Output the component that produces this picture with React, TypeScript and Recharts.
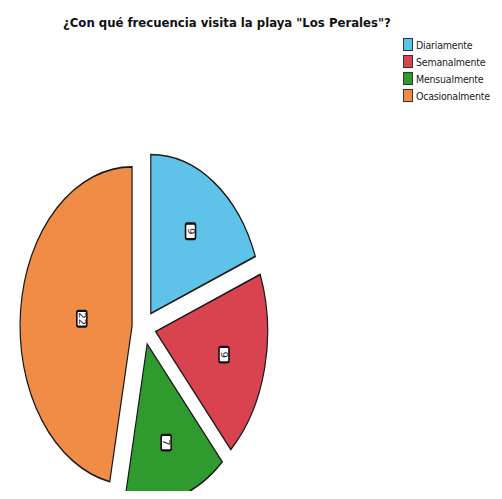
import { PieChart, Pie, Cell } from "recharts";

const title = '¿Con qué frecuencia visita la playa "Los Perales"?';
const categories = ["Diariamente", "Semanalmente", "Mensualmente", "Ocasionalmente"];
const counts = [9, 9, 7, 22];
const colors = ["#5fc2e8", "#d8434f", "#2f9b2f", "#f18c47"];

const data = categories.map((name, i) => ({ name, value: counts[i] }));
const total = counts.reduce((a, b) => a + b, 0);

const RADIAN = Math.PI / 180;
const CX = 131;
const CY = 125;
const R = 112;
const EXPLODE = 12;
const STRETCH = 1.42; // the photo is squashed, pie looks like an oval

// mid angle of each slice (recharts convention: start at 90, clockwise)
const midAngles = counts.map((v, i) => {
  const before = counts.slice(0, i).reduce((a, b) => a + b, 0);
  return 90 - ((before + v / 2) / total) * 360;
});

const renderLabel = (k: number) => (props: any) => {
  if (props.index !== k) return null;
  const { cx, cy, midAngle, outerRadius, percent, value } = props;
  const half = percent * Math.PI;
  const d = (2 * outerRadius * Math.sin(half)) / (3 * half);
  const x = cx + d * Math.cos(-midAngle * RADIAN);
  const y = cy + d * Math.sin(-midAngle * RADIAN);
  return (
    <g>
      <rect x={x - 5} y={y - 5.5} width={10} height={11} rx={1.5} fill="#fff" stroke="#111" strokeWidth={1.6} />
      <text
        x={x}
        y={y}
        transform={`rotate(90 ${x} ${y})`}
        textAnchor="middle"
        dominantBaseline="central"
        fontSize={8}
        fill="#222"
      >
        {value}
      </text>
    </g>
  );
};

const Legend = () => (
  <div style={{ position: "absolute", left: 395, top: 28 }}>
    {categories.map((c, i) => (
      <div key={c} style={{ display: "flex", alignItems: "center", height: 17, whiteSpace: "nowrap" }}>
        <span
          style={{
            width: 8,
            height: 11,
            background: colors[i],
            border: "1px solid #333",
            marginRight: 3,
            flexShrink: 0,
          }}
        />
        <span style={{ fontSize: 10.5, letterSpacing: -0.2, color: "#222" }}>{c}</span>
      </div>
    ))}
  </div>
);

export default function App() {
  return (
    <div
      style={{
        position: "relative",
        width: 486,
        height: 483,
        background: "#fff",
        fontFamily: '"Liberation Sans Narrow", "DejaVu Sans Condensed", Arial, sans-serif',
      }}
    >
      <div
        style={{
          position: "absolute",
          left: 55,
          top: 7,
          fontSize: 13,
          fontWeight: "bold",
          whiteSpace: "nowrap",
          color: "#111",
        }}
      >
        {title}
      </div>
      <Legend />
      <div
        style={{
          position: "absolute",
          left: 0,
          top: 135,
          transform: `scaleY(${STRETCH})`,
          transformOrigin: "top left",
        }}
      >
        <PieChart width={290} height={250}>
          {counts.map((_, k) => (
            <Pie
              key={k}
              data={data}
              dataKey="value"
              nameKey="name"
              cx={CX + EXPLODE * Math.cos(-midAngles[k] * RADIAN)}
              cy={CY + EXPLODE * Math.sin(-midAngles[k] * RADIAN)}
              outerRadius={R}
              startAngle={90}
              endAngle={-270}
              label={renderLabel(k)}
              labelLine={false}
              isAnimationActive={false}
            >
              {data.map((d, i) => (
                <Cell
                  key={d.name}
                  fill={i === k ? colors[i] : "none"}
                  stroke={i === k ? "#1a1a1a" : "none"}
                  strokeWidth={1.2}
                />
              ))}
            </Pie>
          ))}
        </PieChart>
      </div>
    </div>
  );
}
